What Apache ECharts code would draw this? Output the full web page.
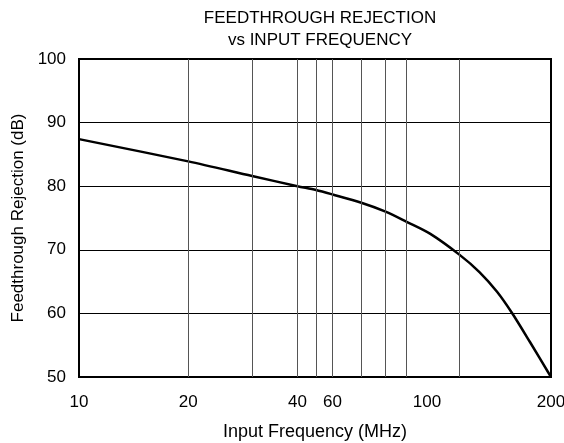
<!DOCTYPE html>
<html>
<head>
<meta charset="utf-8">
<script src="https://cdn.jsdelivr.net/npm/echarts@6/dist/echarts.min.js"></script>
<style>
  html, body { margin: 0; padding: 0; background: #fff; }
  #chart { width: 564px; height: 443px; }
</style>
</head>
<body>
<div id="chart"></div>
<script>
// frequency (MHz) and rejection (dB)
var freq = [10, 20, 30, 40, 45, 50, 60, 70, 80, 93, 112, 127, 142, 156, 175, 200];
var rejection = [87.4, 83.9, 81.6, 80.0, 79.4, 78.7, 77.4, 76.0, 74.4, 72.5, 69.2, 66.5, 63.4, 60.1, 55.5, 50.0];

// vertical grid lines as drawn in the original
var xGrid = [20, 30, 40, 45, 50, 60, 70, 80, 112];
// x tick labels: where they sit and what they say
var xTickPos = [10, 20, 40, 50, 91, 200];
var xTickText = ['10', '20', '40', '60', '100', '200'];

var font = "'Liberation Sans', Arial, sans-serif";

var chart = echarts.init(document.getElementById('chart'));
chart.setOption({
  animation: false,
  title: {
    text: 'FEEDTHROUGH REJECTION\nvs INPUT FREQUENCY',
    left: 315,
    textAlign: 'center',
    top: 2,
    textStyle: {
      fontFamily: font,
      fontSize: 17,
      fontWeight: 'normal',
      color: '#000',
      lineHeight: 22
    }
  },
  grid: {
    left: 79,
    right: 13,
    top: 59,
    bottom: 66,
    show: true,
    borderColor: '#000',
    borderWidth: 2,
    outerBoundsMode: 'none'
  },
  xAxis: {
    type: 'log',
    logBase: 10,
    min: 10,
    max: 200,
    name: 'Input Frequency (MHz)',
    nameLocation: 'middle',
    nameGap: 46,
    nameTextStyle: { fontFamily: font, fontSize: 18, color: '#000' },
    axisLine: { show: false },
    axisTick: { show: false },
    splitLine: { show: false },
    minorSplitLine: { show: false },
    axisLabel: {
      customValues: xTickPos,
      fontFamily: font,
      fontSize: 17,
      color: '#000',
      margin: 17,
      formatter: function (v) {
        var i = xTickPos.indexOf(v);
        return i >= 0 ? xTickText[i] : '';
      }
    }
  },
  yAxis: {
    type: 'value',
    min: 50,
    max: 100,
    interval: 10,
    name: 'Feedthrough Rejection (dB)',
    nameLocation: 'middle',
    nameGap: 50,
    nameTextStyle: { fontFamily: font, fontSize: 17, color: '#000' },
    axisLine: { show: false },
    axisTick: { show: false },
    axisLabel: { fontFamily: font, fontSize: 17, color: '#000', margin: 13 },
    splitLine: { lineStyle: { color: '#000', width: 1 } }
  },
  series: [{
    type: 'line',
    data: freq.map(function (f, i) { return [f, rejection[i]]; }),
    smooth: 0.3,
    showSymbol: false,
    lineStyle: { color: '#000', width: 2.5 },
    markLine: {
      silent: true,
      symbol: 'none',
      label: { show: false },
      lineStyle: { color: '#555', width: 1, type: 'solid' },
      data: xGrid.map(function (v) { return { xAxis: v }; })
    }
  }]
});
</script>
</body>
</html>
